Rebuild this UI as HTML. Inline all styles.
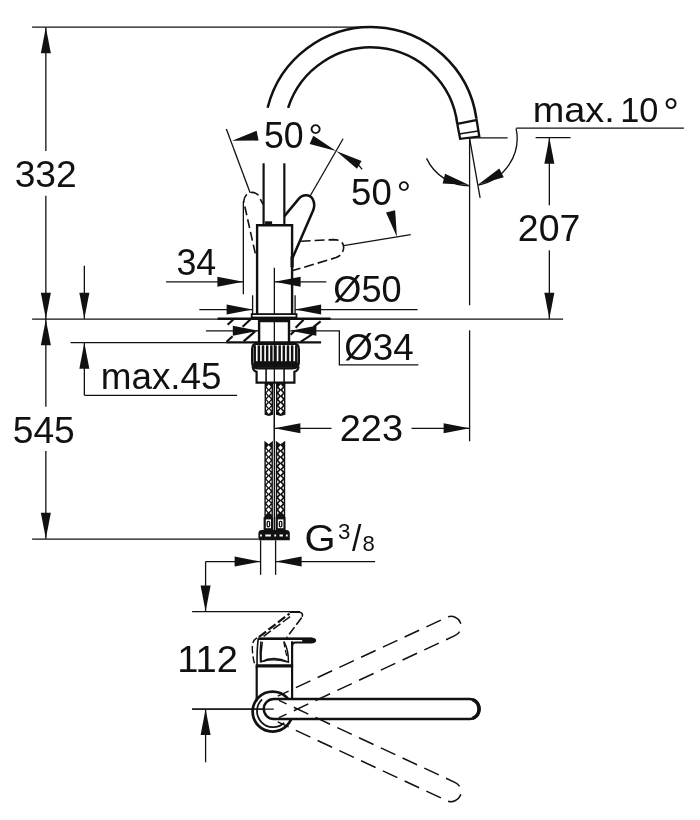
<!DOCTYPE html>
<html><head><meta charset="utf-8"><title>Drawing</title>
<style>
html,body{margin:0;padding:0;background:#fff}
svg{display:block;will-change:transform}
svg text{font-family:"Liberation Sans",sans-serif;fill:#111;stroke:none}
svg .f{fill:#111;stroke:none}
</style></head><body>
<svg width="700" height="820" viewBox="0 0 700 820">
<rect x="0" y="0" width="700" height="820" fill="#fff"/>
<g stroke="#111" fill="none" transform="translate(0.1 0.3)">
<line x1="32" y1="26.75" x2="367" y2="26.75" stroke-width="1.3" />
<line x1="32" y1="318.75" x2="563" y2="318.75" stroke-width="1.3" />
<line x1="32" y1="538.75" x2="258" y2="538.75" stroke-width="1.3" />
<line x1="45.75" y1="27" x2="45.75" y2="150.75" stroke-width="1.3" />
<line x1="45.75" y1="195.5" x2="45.75" y2="406.5" stroke-width="1.3" />
<line x1="45.75" y1="450.75" x2="45.75" y2="538.5" stroke-width="1.3" />
<polygon class="f" points="45.75,27.00 50.75,53.00 40.75,53.00"/>
<polygon class="f" points="45.75,318.50 40.75,292.50 50.75,292.50"/>
<polygon class="f" points="45.75,319.00 50.75,345.00 40.75,345.00"/>
<polygon class="f" points="45.75,538.50 40.75,512.50 50.75,512.50"/>
<text transform="translate(14.54 186.2) scale(1.0192 1)" font-size="36.5">332</text>
<text transform="translate(12.64 442.2) scale(1.0192 1)" font-size="36.5">545</text>
<line x1="84.25" y1="265.5" x2="84.25" y2="318.5" stroke-width="1.3" />
<polygon class="f" points="84.25,318.50 79.25,292.50 89.25,292.50"/>
<line x1="70.5" y1="342.25" x2="226" y2="342.25" stroke-width="1.3" />
<line x1="84.25" y1="342.5" x2="84.25" y2="395" stroke-width="1.3" />
<polygon class="f" points="84.25,342.50 89.25,368.50 79.25,368.50"/>
<line x1="84.25" y1="395" x2="237" y2="395" stroke-width="1.3" />
<text transform="translate(100.60 388.3) scale(1.0101 1)" font-size="36.5">max.45</text>
<line x1="166" y1="281.5" x2="243.25" y2="281.5" stroke-width="1.3" />
<polygon class="f" points="243.25,281.50 217.25,286.50 217.25,276.50"/>
<line x1="274.5" y1="281.5" x2="326.25" y2="281.5" stroke-width="1.3" />
<polygon class="f" points="274.50,281.50 300.50,276.50 300.50,286.50"/>
<line x1="243.25" y1="201" x2="243.25" y2="294" stroke-width="1.3" />
<line x1="274.25" y1="267.5" x2="274.25" y2="441" stroke-width="1.3" />
<text transform="translate(176.38 274.6) scale(0.9806 1)" font-size="36.5">34</text>
<line x1="199.25" y1="309.25" x2="252.5" y2="309.25" stroke-width="1.3" />
<polygon class="f" points="252.50,309.25 226.50,314.25 226.50,304.25"/>
<line x1="295" y1="309.25" x2="417.5" y2="309.25" stroke-width="1.3" />
<polygon class="f" points="295.00,309.25 321.00,304.25 321.00,314.25"/>
<line x1="252.5" y1="295" x2="252.5" y2="316" stroke-width="1.3" />
<line x1="295" y1="295" x2="295" y2="316" stroke-width="1.3" />
<text transform="translate(333.17 301.2) scale(0.9904 1)" font-size="36.5">Ø50</text>
<line x1="205.8" y1="330.5" x2="258.7" y2="330.5" stroke-width="1.3" />
<polygon class="f" points="258.70,330.50 232.70,335.50 232.70,325.50"/>
<polygon class="f" points="290.30,330.50 316.30,325.50 316.30,335.50"/>
<path d="M290.3 330.5 H339.25 V364.5 H418.25" stroke-width="1.3" />
<text transform="translate(344.05 359.8) scale(1.0084 1)" font-size="36.5">Ø34</text>
<polygon class="f" points="274.25,428.00 300.25,423.00 300.25,433.00"/>
<line x1="274.25" y1="428" x2="331.4" y2="428" stroke-width="1.3" />
<line x1="411.4" y1="428" x2="469.5" y2="428" stroke-width="1.3" />
<polygon class="f" points="469.50,428.00 443.50,433.00 443.50,423.00"/>
<line x1="469.5" y1="138" x2="469.5" y2="305" stroke-width="1.3" />
<line x1="469.5" y1="330" x2="469.5" y2="441" stroke-width="1.3" />
<text transform="translate(339.62 440.2) scale(1.0397 1)" font-size="36.5">223</text>
<line x1="535.5" y1="137.25" x2="570.5" y2="137.25" stroke-width="1.3" />
<line x1="549.25" y1="137.5" x2="549.25" y2="205" stroke-width="1.3" />
<line x1="549.25" y1="250" x2="549.25" y2="318.5" stroke-width="1.3" />
<polygon class="f" points="549.25,137.50 554.25,163.50 544.25,163.50"/>
<polygon class="f" points="549.25,318.50 544.25,292.50 554.25,292.50"/>
<text transform="translate(517.74 240.9) scale(1.0276 1)" font-size="36.5">207</text>
<line x1="516.25" y1="127.75" x2="683.75" y2="127.75" stroke-width="1.3" />
<text transform="translate(532.63 121.3) scale(1.0823 1)" font-size="35">max.</text>
<text transform="translate(620.15 121.3) scale(0.9813 1)" font-size="35">10</text>
<text x="663.27" y="124.27" font-size="39.07">°</text>
<path d="M426.45 158.07 A47.5 47.5 0 0 0 469.50 185.50" stroke-width="1.3" />
<polygon class="f" points="469.00,184.70 442.56,183.24 444.99,173.54"/>
<path d="M515.96 128.12 A47.5 47.5 0 0 1 478.16 184.70" stroke-width="1.3" />
<polygon class="f" points="478.16,184.20 499.18,168.10 503.65,177.05"/>
<line x1="469.5" y1="138" x2="480" y2="197.5" stroke-width="1.3" />
<line x1="469.5" y1="137.5" x2="507.5" y2="137.5" stroke-width="1.3" />
<line x1="226.25" y1="128.75" x2="250" y2="192.5" stroke-width="1.3" />
<line x1="343" y1="138.5" x2="309.3" y2="197" stroke-width="1.3" />
<polygon class="f" points="232.00,140.50 256.51,130.50 258.48,140.30"/>
<polygon class="f" points="336.00,150.70 309.53,143.72 313.22,135.52"/>
<polygon class="f" points="336.00,150.70 361.47,160.73 356.84,168.45"/>
<line x1="358" y1="164" x2="362" y2="169" stroke-width="1.3" />
<text transform="translate(263.88 148.1) scale(0.9780 1)" font-size="36.5">50</text>
<text x="308.53" y="148.80" font-size="35.70">°</text>
<line x1="343.6" y1="245.4" x2="410.6" y2="234.3" stroke-width="1.3" />
<polygon class="f" points="396.80,236.40 385.93,212.32 395.05,210.04"/>
<text transform="translate(350.96 204.4) scale(1.0013 1)" font-size="36.5">50</text>
<text x="396.63" y="205.80" font-size="35.70">°</text>
<line x1="260.5" y1="540" x2="260.5" y2="574.5" stroke-width="1.3" />
<line x1="275.5" y1="540" x2="275.5" y2="574.5" stroke-width="1.3" />
<line x1="205.5" y1="561.25" x2="260.5" y2="561.25" stroke-width="1.3" />
<polygon class="f" points="260.50,561.25 234.50,566.25 234.50,556.25"/>
<line x1="275.5" y1="561.25" x2="375" y2="561.25" stroke-width="1.3" />
<polygon class="f" points="275.50,561.25 301.50,556.25 301.50,566.25"/>
<line x1="205.5" y1="561.25" x2="205.5" y2="611" stroke-width="1.3" />
<polygon class="f" points="205.50,611.25 200.50,585.25 210.50,585.25"/>
<line x1="192" y1="611.25" x2="300" y2="611.25" stroke-width="1.3" />
<line x1="192" y1="708.75" x2="275" y2="708.75" stroke-width="1.3" />
<line x1="205.5" y1="708.75" x2="205.5" y2="762" stroke-width="1.3" />
<polygon class="f" points="205.50,708.75 210.50,734.75 200.50,734.75"/>
<text transform="translate(177.12 672.1) scale(1.0436 1)" font-size="36.5">112</text>
<text transform="translate(304.43 550.8) scale(1.0938 1)" font-size="36.5">G</text>
<text transform="translate(337.97 538.3) scale(1.0388 1)" font-size="21.5">3</text>
<text transform="translate(351.80 551) scale(0.9129 1)" font-size="37">/</text>
<text transform="translate(362.37 550.8) scale(1.0294 1)" font-size="21.5">8</text>
<path d="M267.5 107.5 A106.5 106.5 0 0 1 476.25 118" stroke-width="2.5" />
<path d="M288 107.5 A87 87 0 0 1 457.25 124" stroke-width="2.5" />
<path d="M457.25 124 L460 138.5 L479.2 136.3 L476.25 118" stroke-width="2.3" />
<line x1="457.2" y1="123.6" x2="476" y2="119.8" stroke-width="2.2" />
<line x1="459" y1="133.6" x2="478" y2="130.6" stroke-width="1.5" />
<line x1="263.5" y1="163" x2="263.5" y2="224.5" stroke-width="2.2" />
<line x1="284.25" y1="163" x2="284.25" y2="224.5" stroke-width="2.2" />
<path d="M257 315 V225 H292 V315" stroke-width="2.4" />
<rect class="f" x="265" y="221" width="7" height="4"/>
<rect x="251.6" y="313.8" width="44.8" height="3.4" stroke-width="1.8" fill="#fff"/>
<line x1="217.5" y1="318.4" x2="330.5" y2="318.4" stroke-width="2.6" />
<line x1="226" y1="342" x2="321" y2="342" stroke-width="2.2" />
<path d="M259 342 V320.7 H288.9 V342" stroke-width="2.4" />
<line x1="227.5" y1="324.5" x2="233.5" y2="319" stroke-width="2.2" />
<line x1="242.5" y1="326.5" x2="250.5" y2="319" stroke-width="2.2" />
<line x1="226.5" y1="341.5" x2="232.5" y2="336" stroke-width="2.2" />
<line x1="243.5" y1="341" x2="255" y2="331" stroke-width="2.2" />
<line x1="295.5" y1="327.5" x2="303.5" y2="319.5" stroke-width="2.2" />
<line x1="313.5" y1="326.5" x2="320.5" y2="321" stroke-width="2.2" />
<line x1="290.5" y1="334.5" x2="294.5" y2="330.5" stroke-width="2.2" />
<line x1="300.5" y1="341.5" x2="312" y2="334" stroke-width="2.2" />
<path d="M252 349 Q252 343.5 256 343.5 H294.5 Q298.8 343.5 298.8 349 V362 Q298.8 368 292 368 H258 Q252 368 252 362 Z" stroke-width="2.2" />
<line x1="254.6" y1="345" x2="254.6" y2="362" stroke-width="2.5" />
<line x1="258.76" y1="345" x2="258.76" y2="362" stroke-width="2.5" />
<line x1="262.92" y1="345" x2="262.92" y2="362" stroke-width="2.5" />
<line x1="267.08" y1="345" x2="267.08" y2="362" stroke-width="2.5" />
<line x1="271.24" y1="345" x2="271.24" y2="362" stroke-width="2.5" />
<line x1="275.4" y1="345" x2="275.4" y2="362" stroke-width="2.5" />
<line x1="279.56" y1="345" x2="279.56" y2="362" stroke-width="2.5" />
<line x1="283.71999999999997" y1="345" x2="283.71999999999997" y2="362" stroke-width="2.5" />
<line x1="287.88" y1="345" x2="287.88" y2="362" stroke-width="2.5" />
<line x1="292.03999999999996" y1="345" x2="292.03999999999996" y2="362" stroke-width="2.5" />
<line x1="296.2" y1="345" x2="296.2" y2="362" stroke-width="2.5" />
<rect class="f" x="253" y="361" width="45" height="6.5" rx="3"/>
<path d="M252.5 366 Q253 370.5 256.5 371.5 V382.3 H294.3 V371.5 Q298 370.5 298.5 366" stroke-width="2.2" />
<line x1="266" y1="368" x2="266" y2="382" stroke-width="1.6" />
<line x1="284" y1="368" x2="284" y2="382" stroke-width="1.6" />
<path class="f" d="M264.5 382 H272.9 V414.5 L268.7 415.7 L264.5 414.5 Z"/>
<path d="M268.7 384.0 L270.9 386.5 L268.7 389.0 L266.5 386.5 Z M265.9 387.8 L267.6 389.6 L265.9 391.4 Z M271.5 387.8 L269.79999999999995 389.6 L271.5 391.4 Z M268.7 390.2 L270.9 392.7 L268.7 395.2 L266.5 392.7 Z M265.9 394.0 L267.6 395.8 L265.9 397.6 Z M271.5 394.0 L269.79999999999995 395.8 L271.5 397.6 Z M268.7 396.4 L270.9 398.9 L268.7 401.4 L266.5 398.9 Z M265.9 400.2 L267.6 402.0 L265.9 403.8 Z M271.5 400.2 L269.79999999999995 402.0 L271.5 403.8 Z M268.7 402.6 L270.9 405.1 L268.7 407.6 L266.5 405.1 Z M265.9 406.4 L267.6 408.2 L265.9 410.0 Z M271.5 406.4 L269.79999999999995 408.2 L271.5 410.0 Z M268.7 408.8 L270.9 411.3 L268.7 413.8 L266.5 411.3 Z " fill="#fff" stroke="none"/>
<path class="f" d="M275.9 382 H285.3 V414.5 L280.6 415.7 L275.9 414.5 Z"/>
<path d="M280.6 384.0 L282.8 386.5 L280.6 389.0 L278.40000000000003 386.5 Z M277.29999999999995 387.8 L279.0 389.6 L277.29999999999995 391.4 Z M283.90000000000003 387.8 L282.2 389.6 L283.90000000000003 391.4 Z M280.6 390.2 L282.8 392.7 L280.6 395.2 L278.40000000000003 392.7 Z M277.29999999999995 394.0 L279.0 395.8 L277.29999999999995 397.6 Z M283.90000000000003 394.0 L282.2 395.8 L283.90000000000003 397.6 Z M280.6 396.4 L282.8 398.9 L280.6 401.4 L278.40000000000003 398.9 Z M277.29999999999995 400.2 L279.0 402.0 L277.29999999999995 403.8 Z M283.90000000000003 400.2 L282.2 402.0 L283.90000000000003 403.8 Z M280.6 402.6 L282.8 405.1 L280.6 407.6 L278.40000000000003 405.1 Z M277.29999999999995 406.4 L279.0 408.2 L277.29999999999995 410.0 Z M283.90000000000003 406.4 L282.2 408.2 L283.90000000000003 410.0 Z M280.6 408.8 L282.8 411.3 L280.6 413.8 L278.40000000000003 411.3 Z " fill="#fff" stroke="none"/>
<path class="f" d="M264.3 440.5 L268.55 444.0 L272.8 440.5 V518 H264.3 Z"/>
<path d="M268.55 445.0 L270.75 447.5 L268.55 450.0 L266.35 447.5 Z M265.7 448.8 L267.40000000000003 450.6 L265.7 452.4 Z M271.40000000000003 448.8 L269.7 450.6 L271.40000000000003 452.4 Z M268.55 451.2 L270.75 453.7 L268.55 456.2 L266.35 453.7 Z M265.7 455.0 L267.40000000000003 456.8 L265.7 458.6 Z M271.40000000000003 455.0 L269.7 456.8 L271.40000000000003 458.6 Z M268.55 457.4 L270.75 459.9 L268.55 462.4 L266.35 459.9 Z M265.7 461.2 L267.40000000000003 463.0 L265.7 464.8 Z M271.40000000000003 461.2 L269.7 463.0 L271.40000000000003 464.8 Z M268.55 463.6 L270.75 466.1 L268.55 468.6 L266.35 466.1 Z M265.7 467.4 L267.40000000000003 469.2 L265.7 471.0 Z M271.40000000000003 467.4 L269.7 469.2 L271.40000000000003 471.0 Z M268.55 469.8 L270.75 472.3 L268.55 474.8 L266.35 472.3 Z M265.7 473.6 L267.40000000000003 475.4 L265.7 477.2 Z M271.40000000000003 473.6 L269.7 475.4 L271.40000000000003 477.2 Z M268.55 476.0 L270.75 478.5 L268.55 481.0 L266.35 478.5 Z M265.7 479.8 L267.40000000000003 481.6 L265.7 483.4 Z M271.40000000000003 479.8 L269.7 481.6 L271.40000000000003 483.4 Z M268.55 482.2 L270.75 484.7 L268.55 487.2 L266.35 484.7 Z M265.7 486.0 L267.40000000000003 487.8 L265.7 489.6 Z M271.40000000000003 486.0 L269.7 487.8 L271.40000000000003 489.6 Z M268.55 488.4 L270.75 490.9 L268.55 493.4 L266.35 490.9 Z M265.7 492.2 L267.40000000000003 494.0 L265.7 495.8 Z M271.40000000000003 492.2 L269.7 494.0 L271.40000000000003 495.8 Z M268.55 494.6 L270.75 497.1 L268.55 499.6 L266.35 497.1 Z M265.7 498.4 L267.40000000000003 500.2 L265.7 502.0 Z M271.40000000000003 498.4 L269.7 500.2 L271.40000000000003 502.0 Z M268.55 500.8 L270.75 503.3 L268.55 505.8 L266.35 503.3 Z M265.7 504.6 L267.40000000000003 506.4 L265.7 508.2 Z M271.40000000000003 504.6 L269.7 506.4 L271.40000000000003 508.2 Z M268.55 507.0 L270.75 509.5 L268.55 512.0 L266.35 509.5 Z M265.7 510.8 L267.40000000000003 512.6 L265.7 514.4 Z M271.40000000000003 510.8 L269.7 512.6 L271.40000000000003 514.4 Z " fill="#fff" stroke="none"/>
<path class="f" d="M275.7 440.5 L280.4 444.0 L285.1 440.5 V518 H275.7 Z"/>
<path d="M280.4 445.0 L282.59999999999997 447.5 L280.4 450.0 L278.2 447.5 Z M277.09999999999997 448.8 L278.8 450.6 L277.09999999999997 452.4 Z M283.70000000000005 448.8 L282.0 450.6 L283.70000000000005 452.4 Z M280.4 451.2 L282.59999999999997 453.7 L280.4 456.2 L278.2 453.7 Z M277.09999999999997 455.0 L278.8 456.8 L277.09999999999997 458.6 Z M283.70000000000005 455.0 L282.0 456.8 L283.70000000000005 458.6 Z M280.4 457.4 L282.59999999999997 459.9 L280.4 462.4 L278.2 459.9 Z M277.09999999999997 461.2 L278.8 463.0 L277.09999999999997 464.8 Z M283.70000000000005 461.2 L282.0 463.0 L283.70000000000005 464.8 Z M280.4 463.6 L282.59999999999997 466.1 L280.4 468.6 L278.2 466.1 Z M277.09999999999997 467.4 L278.8 469.2 L277.09999999999997 471.0 Z M283.70000000000005 467.4 L282.0 469.2 L283.70000000000005 471.0 Z M280.4 469.8 L282.59999999999997 472.3 L280.4 474.8 L278.2 472.3 Z M277.09999999999997 473.6 L278.8 475.4 L277.09999999999997 477.2 Z M283.70000000000005 473.6 L282.0 475.4 L283.70000000000005 477.2 Z M280.4 476.0 L282.59999999999997 478.5 L280.4 481.0 L278.2 478.5 Z M277.09999999999997 479.8 L278.8 481.6 L277.09999999999997 483.4 Z M283.70000000000005 479.8 L282.0 481.6 L283.70000000000005 483.4 Z M280.4 482.2 L282.59999999999997 484.7 L280.4 487.2 L278.2 484.7 Z M277.09999999999997 486.0 L278.8 487.8 L277.09999999999997 489.6 Z M283.70000000000005 486.0 L282.0 487.8 L283.70000000000005 489.6 Z M280.4 488.4 L282.59999999999997 490.9 L280.4 493.4 L278.2 490.9 Z M277.09999999999997 492.2 L278.8 494.0 L277.09999999999997 495.8 Z M283.70000000000005 492.2 L282.0 494.0 L283.70000000000005 495.8 Z M280.4 494.6 L282.59999999999997 497.1 L280.4 499.6 L278.2 497.1 Z M277.09999999999997 498.4 L278.8 500.2 L277.09999999999997 502.0 Z M283.70000000000005 498.4 L282.0 500.2 L283.70000000000005 502.0 Z M280.4 500.8 L282.59999999999997 503.3 L280.4 505.8 L278.2 503.3 Z M277.09999999999997 504.6 L278.8 506.4 L277.09999999999997 508.2 Z M283.70000000000005 504.6 L282.0 506.4 L283.70000000000005 508.2 Z M280.4 507.0 L282.59999999999997 509.5 L280.4 512.0 L278.2 509.5 Z M277.09999999999997 510.8 L278.8 512.6 L277.09999999999997 514.4 Z M283.70000000000005 510.8 L282.0 512.6 L283.70000000000005 514.4 Z " fill="#fff" stroke="none"/>
<line x1="274.25" y1="382" x2="274.25" y2="530" stroke-width="1.3" />
<rect x="264.6" y="518" width="7.4" height="11" fill="#fff" stroke-width="2.2"/>
<rect x="276.6" y="518" width="7.8" height="11" fill="#fff" stroke-width="2.2"/>
<rect x="267.1" y="521" width="2.4" height="5.5" rx="1" fill="#fff" stroke-width="1.3"/>
<rect x="279.3" y="521" width="2.4" height="5.5" rx="1" fill="#fff" stroke-width="1.3"/>
<path class="f" d="M258.3 533 Q258.3 529.6 262 529.6 H286 Q289.7 529.6 289.7 533 V539.9 H258.3 Z"/>
<path d="M260 535.1 h1.8 m3.4 0 h5.6 m3.4 0 h1.8 m3.4 0 h3.4 m3 0 h1.8" stroke="#fff" stroke-width="2"/>
<path d="M284.3 215.8 L298.6 198.6 C302.5 193.8 309.8 193.6 312.6 198.8 C314.6 202.4 314.4 206.4 313.2 209.8 L292.2 258.2" stroke-width="2.5" />
<line x1="292" y1="256" x2="292" y2="267" stroke-width="3.2" />
<path d="M263 204 L258 194.6 Q252 189.6 246.4 194.4 Q243 198 243.9 202.5 L255.8 256" stroke-width="1.6" stroke-dasharray="9 4" stroke-dashoffset="3"/>
<path d="M300.5 241 L333 239.3 Q343.5 239.3 343.6 247.2 Q343 254.5 336 257.3 L291 270.8" stroke-width="1.6" stroke-dasharray="10 4"/>
<circle cx="272.5" cy="711.3" r="20" stroke-width="2.7"/>
<path d="M262 699 A16 16 0 1 0 284 722.5" stroke-width="1.8" />
<path d="M273.7 698.7 H469.5 A10 10 0 0 1 469.5 718.7 H273.7 A10 10 0 0 1 273.7 698.7" stroke-width="2.4" fill="#fff"/>
<line x1="192" y1="708.75" x2="273.7" y2="708.75" stroke-width="1.3" />
<path d="M472.5 699.4000000000001 A10 10 0 0 1 472.5 718.0" stroke-width="3.4" />
<g transform="rotate(-25 273.7 708.7)" stroke-width="1.5" stroke-dasharray="16 8"><path d="M282.7 698.7 H469.3 A10 10 0 0 1 469.3 718.7 H274.7" stroke-dashoffset="4"/></g>
<g transform="rotate(25 273.7 708.7)" stroke-width="1.5" stroke-dasharray="16 8"><path d="M282.7 718.7 H469.3 A10 10 0 0 0 469.3 698.7 H274.7" stroke-dashoffset="4"/></g>
<path d="M256.6 701 V665.5 M292 641 V698" stroke-width="2.2" />
<line x1="255.6" y1="665.6" x2="293" y2="665.6" stroke-width="3.4" />
<path d="M258 638 H311 Q314.8 638.3 314.8 640.2 Q314.8 642 311 642.2 H295 Q292 642.4 292 646" stroke-width="1.8" />
<line x1="258" y1="638.6" x2="312" y2="638.6" stroke-width="2.4" />
<line x1="304" y1="640.2" x2="314" y2="640.2" stroke-width="4" stroke-linecap="round"/>
<path d="M258.2 638 Q256.6 650 257 665" stroke-width="1.6" />
<path d="M260.8 641 Q259.6 652 260.4 662" stroke-width="1.4" />
<path d="M262.2 641.5 Q260.5 652 261 661.5 Q274 655 288.3 661.8 Q288.6 650 284 641.5" stroke-width="1.5" />
<path d="M263 661 Q274 657.8 287 661.5" stroke-width="1.3" />
<path d="M257 637.5 Q251.5 640 252.3 650 Q252.8 659 255 665" stroke-width="1.4" stroke-dasharray="7 3"/>
<path d="M258.8 636.7 L289.5 613.3" stroke-width="2.2" stroke-dasharray="9 3"/>
<path d="M263.5 636 L291.5 615.2" stroke-width="1.5" stroke-dasharray="9 3"/>
<path d="M289.5 612 H299 Q303.6 612.3 302 616.5" stroke-width="1.6" />
<path d="M301.6 617.2 L286.5 637.5" stroke-width="1.6" stroke-dasharray="9 3"/>
<path d="M283.8 641 Q285 651 287.5 658" stroke-width="1.3" stroke-dasharray="6 3"/>
</g>
</svg>
</body></html>
